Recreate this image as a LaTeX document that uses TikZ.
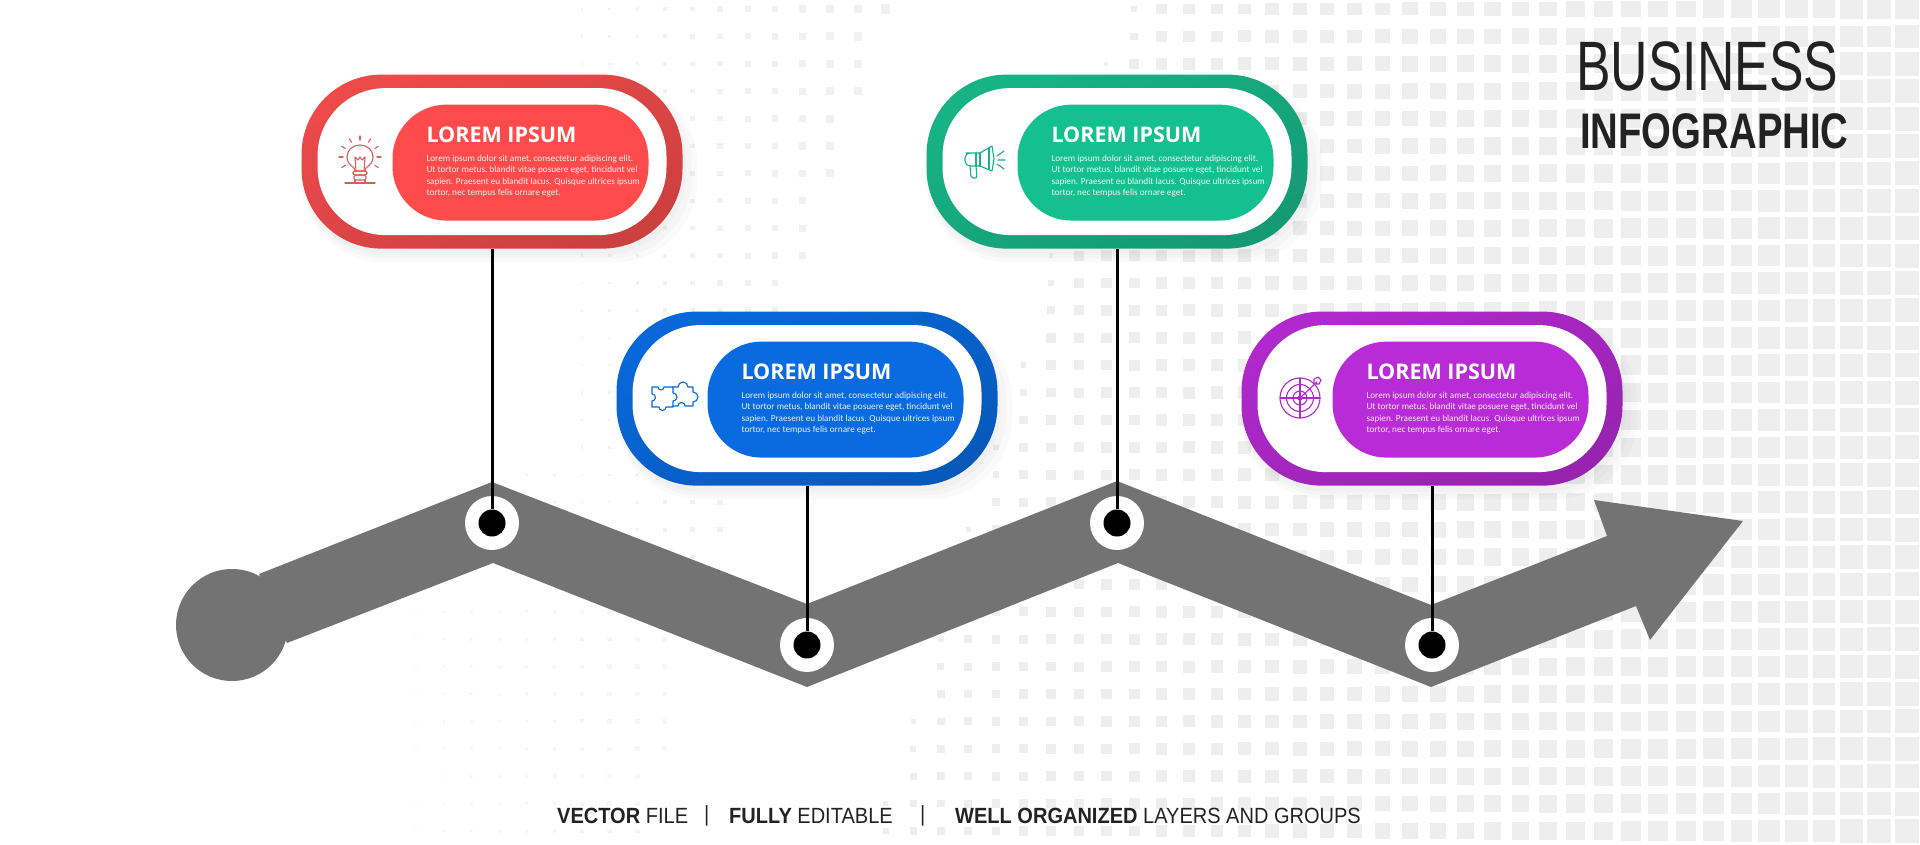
\documentclass[tikz,border=0pt]{standalone}
\usepackage{fontspec}
\usepackage{tikz}
\usetikzlibrary{positioning, shadows}

\newfontfamily\cardheadfont{Open Sans}
\newfontfamily\cardbodyfont{Carlito}
\newfontfamily\bigtitlefont[FakeStretch=.74]{Liberation Sans}
\newfontfamily\subtitlefont[FakeStretch=.767]{Liberation Sans}
\newfontfamily\footerfont[FakeStretch=.91]{Liberation Sans}

\definecolor{redfill}{HTML}{FF4B4B}
\definecolor{redring}{HTML}{EE4A4A}
\definecolor{redicon}{HTML}{D9605A}
\definecolor{bluefill}{HTML}{0A6BE0}
\definecolor{bluering}{HTML}{0868DA}
\definecolor{greenfill}{HTML}{14C08F}
\definecolor{greenring}{HTML}{17B387}
\definecolor{purplefill}{HTML}{B92BD6}
\definecolor{purplering}{HTML}{B029CC}
\definecolor{bandgrey}{HTML}{737373}
\definecolor{gridgrey}{HTML}{EEEEEE}
\definecolor{inkgrey}{HTML}{222222}

\newcommand{\loremlines}{Lorem ipsum dolor sit amet, consectetur adipiscing elit.\\
Ut tortor metus, blandit vitae posuere eget, tincidunt vel\\
sapien. Praesent eu blandit lacus. Quisque ultrices ipsum\\
tortor, nec tempus felis ornare eget.}

\begin{document}
\begin{tikzpicture}
            [x=1pt, y=-1pt, node distance=1cm, line join=round,
            ringbox/.style={rectangle, inner sep=0pt, minimum width=381pt, minimum height=174pt,
              rounded corners=80pt, top color=#1, middle color=#1, bottom color=#1!86!black, shading angle=25,
              general shadow={fill=black, opacity=.018, shadow xshift=3pt, shadow yshift=-6pt, shadow scale=1.0},
              general shadow={fill=black, opacity=.018, shadow xshift=5pt, shadow yshift=-8pt, shadow scale=1.02},
              general shadow={fill=black, opacity=.018, shadow xshift=7pt, shadow yshift=-10pt, shadow scale=1.04}},
            holebox/.style={rectangle, inner sep=0pt, fill=white, minimum width=349pt, minimum height=147pt,
              rounded corners=68pt},
            pillbox/.style={rectangle, inner sep=0pt, fill=#1, minimum width=256pt, minimum height=116pt,
              rounded corners=54pt},
            cardhead/.style={anchor=west, inner sep=0pt, text=white, font=\cardheadfont\bfseries\fontsize{21.5}{24}\selectfont},
            cardbody/.style={anchor=west, inner sep=0pt, text=white, text opacity=.9, align=left, font=\cardbodyfont\fontsize{9.2}{11.1}\selectfont},
            ringdot/.style={circle, inner sep=0pt, fill=white, minimum size=54pt},
            spotdot/.style={circle, inner sep=0pt, fill=black, minimum size=27pt},
            stem/.style={line width=3pt, black},
            icon/.style={line width=1.1pt, #1, line cap=round},
            footer/.style={anchor=west, inner sep=0pt, text=inkgrey, font=\footerfont\fontsize{22}{24}\selectfont}]

            \useasboundingbox (0,0) rectangle (1920,845);

            \foreach \row in {0,...,30} {
              \foreach \col in {-10,...,28} {
                \pgfmathsetmacro\cx{1134+27.6*\col}
                \pgfmathsetmacro\cy{9+27.4*\row}
                \pgfmathsetmacro\gap{\cx-(1125-.3*\cy)}
                \ifdim\gap pt>0pt
                  \pgfmathsetmacro\wd{min(4+\gap/5,7+(\cx-900)*.017)}
                  \pgfmathsetmacro\ht{\wd*min(1,.8+\cy/300)}
                  \fill[gridgrey] (\cx-\wd/2,\cy-\ht/2) rectangle ++(\wd,\ht);
                \fi
              }
            }
            \foreach \row in {0,...,20} {
              \foreach \col in {-22,...,-9} {
                \pgfmathsetmacro\cx{1134+27.6*\col}
                \pgfmathsetmacro\cy{9+27.4*\row}
                \pgfmathsetmacro\gap{min(890-.32*\cy-\cx,\cx-(\cy>450?520:580))}
                \ifdim\gap pt>0pt
                  \pgfmathsetmacro\wd{max(2.5,2.5+(\cx-608)*.024)}
                  \fill[gridgrey!80] (\cx-\wd/2,\cy-\wd/2) rectangle ++(\wd,\wd);
                \fi
              }
            }
            \foreach \row in {22,...,30} {
              \foreach \col in {-26,...,-17} {
                \pgfmathsetmacro\cx{1134+27.6*\col}
                \pgfmathsetmacro\cy{9+27.4*\row}
                \pgfmathsetmacro\gap{(\cy>760?640:670)-\cx}
                \ifdim\gap pt>0pt
                  \pgfmathsetmacro\wd{2+(\cx-416)*.012}
                  \fill[gridgrey!55] (\cx-\wd/2,\cy-\wd/2) rectangle ++(\wd,\wd);
                \fi
              }
            }

            \fill[bandgrey] (259,574) -- (492,482) -- (807,604) -- (1117,481) -- (1431,605)
              -- (1607,536) -- (1594,500) -- (1743,521) -- (1650,640) -- (1636,606)
              -- (1431,687) -- (1118,563) -- (807,687) -- (493,563) -- (287,643) -- cycle;
            \node[circle, inner sep=0pt, fill=bandgrey, minimum size=112pt] (startdot) at (232,625) {};

            \node[ringdot] (ringa) at (492,523) {};
            \node[ringdot] (ringb) at (807,645) {};
            \node[ringdot] (ringc) at (1117,523) {};
            \node[ringdot] (ringd) at (1432,645) {};
            \node[spotdot] (spota) at (ringa) {};
            \node[spotdot] (spotb) at (ringb) {};
            \node[spotdot] (spotc) at (ringc) {};
            \node[spotdot] (spotd) at (ringd) {};

            \node[ringbox=redring] (carda) [above = 247pt of ringa] {};
            \node[holebox] (holea) at (carda) {};
            \node[pillbox=redfill] (pilla) at ([xshift=28.5pt,yshift=-1pt]carda.center) {};
            \node[cardhead] (heada) at ([shift={(34pt,27.5pt)}]pilla.west) {LOREM IPSUM};
            \node[cardbody] (bodya) at ([shift={(34pt,-13.5pt)}]pilla.west) {\loremlines};

            \node[ringbox=bluering] (cardb) [above = 132pt of ringb] {};
            \node[holebox] (holeb) at (cardb) {};
            \node[pillbox=bluefill] (pillb) at ([xshift=28.5pt,yshift=-1pt]cardb.center) {};
            \node[cardhead] (headb) at ([shift={(34pt,27.5pt)}]pillb.west) {LOREM IPSUM};
            \node[cardbody] (bodyb) at ([shift={(34pt,-13.5pt)}]pillb.west) {\loremlines};

            \node[ringbox=greenring] (cardc) [above = 247pt of ringc] {};
            \node[holebox] (holec) at (cardc) {};
            \node[pillbox=greenfill] (pillc) at ([xshift=28.5pt,yshift=-1pt]cardc.center) {};
            \node[cardhead] (headc) at ([shift={(34pt,27.5pt)}]pillc.west) {LOREM IPSUM};
            \node[cardbody] (bodyc) at ([shift={(34pt,-13.5pt)}]pillc.west) {\loremlines};

            \node[ringbox=purplering] (cardd) [above = 132pt of ringd] {};
            \node[holebox] (holed) at (cardd) {};
            \node[pillbox=purplefill] (pilld) at ([xshift=28.5pt,yshift=-1pt]cardd.center) {};
            \node[cardhead] (headd) at ([shift={(34pt,27.5pt)}]pilld.west) {LOREM IPSUM};
            \node[cardbody] (bodyd) at ([shift={(34pt,-13.5pt)}]pilld.west) {\loremlines};

            \draw[stem] (carda) -- (spota);
            \draw[stem] (cardb) -- (spotb);
            \draw[stem] (cardc) -- (spotc);
            \draw[stem] (cardd) -- (spotd);

            \begin{scope}[shift={(360,162)}, icon=redicon]
              \draw (-5,9) -- (-6,6) .. controls (-10,3) and (-13,0) .. (-13,-5)
                .. controls (-13,-12) and (-7,-17) .. (0,-17) .. controls (7,-17) and (13,-12) .. (13,-5)
                .. controls (13,0) and (10,3) .. (6,6) -- (5,9) -- cycle;
              \draw (-4,9) -- (-5,-5) -- (-2,-2) -- (0,-5) -- (2,-2) -- (5,-5) -- (4,9);
              \draw[rounded corners=1.5pt] (-7,9) rectangle (7,13);
              \draw[rounded corners=1.5pt] (-6,13) rectangle (6,18);
              \draw (-5,18) -- (-5,21) (5,18) -- (5,21) (-15,21) -- (15,21);
              \foreach \ang in {-180,-150,...,0,30,150} {
                \draw (\ang:17) ++(0,-5) -- ++(\ang:4);
              }
            \end{scope}

            \begin{scope}[shift={(985,162)}, icon=greenring]
              \draw[rounded corners=5pt] (-5,-9) -- (-14,-9) -- (-20,-9) -- (-20,4) -- (-5,4);
              \draw (-5,-9) -- (7,-16) -- (9,-3.5) -- (7,9) -- (-5,4) -- cycle;
              \draw (-9,-9) -- (-9,4) (-5,-9) -- (-5,4) (4,-14) -- (4,7.5);
              \draw[rounded corners=2pt] (-15,4) -- (-14,16) -- (-8,16) -- (-9,4);
              \draw (12,-6) -- (19,-11) (13,-2) -- (20,-2) (12,2) -- (19,7);
            \end{scope}

            \begin{scope}[shift={(675,397)}, icon=bluering]
              \draw (-23,-10) -- (-17,-10) arc (180:0:3) -- (-2,-10) -- (-2,-4) arc (-90:90:4) -- (-2,10)
                -- (-9,10) arc (0:180:3.5) -- (-23,10) -- (-23,4) arc (90:-90:3.5) -- cycle;
              \draw (-2,-10) -- (3,-10) arc (180:360:5) -- (18,-10) -- (18,-5) arc (-90:90:5) -- (18,9)
                -- (10,9) arc (0:-180:3.5) -- (-2,9);
            \end{scope}

            \begin{scope}[shift={(1300,398)}, icon=purplering]
              \draw (0,0) circle (20) (0,0) circle (13.5) (0,0) circle (7) (0,0) circle (2);
              \draw (-20,0) -- (20,0) (0,-20) -- (0,20);
              \draw (0,0) -- (17,-16) (14,-19) -- (14,-14) -- (19,-14) -- (21,-18) -- (18,-21) -- cycle;
            \end{scope}

            \node[anchor=west, inner sep=0pt, text=inkgrey, font=\bigtitlefont\fontsize{70}{70}\selectfont] (bigtitle) at (1576,66) {BUSINESS};
            \node[inner sep=0pt, text=inkgrey, font=\subtitlefont\bfseries\fontsize{50}{50}\selectfont] (subtitle) [below right = 22pt and 4pt of bigtitle.south west, anchor=north west] {INFOGRAPHIC};

            \node[footer] (foota) at (557,816) {\textbf{VECTOR} FILE};
            \node[footer] (bara) at (704,816) {|};
            \node[footer] (footb) at (729,816) {\textbf{FULLY} EDITABLE};
            \node[footer] (barb) at (920,816) {|};
            \node[footer] (footc) at (955,816) {\textbf{WELL ORGANIZED} LAYERS AND GROUPS};
        \end{tikzpicture}
\end{document}
